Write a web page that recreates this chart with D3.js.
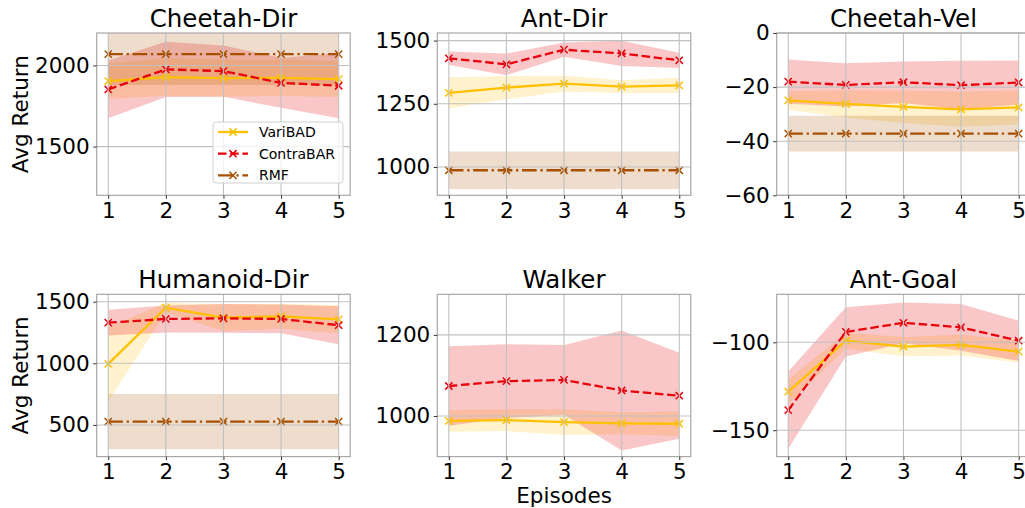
<!DOCTYPE html>
<html>
<head>
<meta charset="utf-8">
<script src="https://cdn.jsdelivr.net/npm/d3@7"></script>
<style>
    body { margin: 0; background: #fff; }
    text { font-family: "DejaVu Sans", sans-serif; fill: #000; }
</style>
</head>
<body>
<div id="chart"></div>
<script>
// data
const episodes = [1, 2, 3, 4, 5];
const tasks = ['Cheetah-Dir', 'Ant-Dir', 'Cheetah-Vel', 'Humanoid-Dir', 'Walker', 'Ant-Goal'];
const seriesNames = ['VariBAD', 'ContraBAR', 'RMF'];

const varibadMean = [
    [1904, 1928, 1922, 1924, 1916],
    [1293, 1314, 1330, 1318, 1323],
    [-24.9, -26.2, -27.3, -28.2, -27.5],
    [995, 1451, 1370, 1381, 1357],
    [988, 990, 985, 982, 981],
    [-128.1, -99.1, -102.5, -101.5, -105.3]
];
const varibadStd = [
    [110, 115, 115, 112, 110],
    [62, 46, 31, 25, 30],
    [3.5, 5, 6, 6.5, 6.3],
    [300, 40, 110, 100, 116],
    [27, 27, 32, 27, 30],
    [7, 4.5, 5.5, 6, 6.3]
];
const contrabarMean = [
    [1852, 1976, 1965, 1893, 1875],
    [1430, 1406, 1464, 1449, 1422],
    [-18.0, -19.2, -18.2, -19.3, -18.3],
    [1330, 1360, 1365, 1360, 1309],
    [1074, 1086, 1089, 1063, 1050],
    [-138.6, -94.1, -88.9, -91.5, -99.1]
];
const contrabarStd = [
    [178, 170, 158, 154, 200],
    [27, 43, 28, 50, 30],
    [8.2, 8, 7.7, 9, 8.1],
    [105, 110, 116, 117, 155],
    [98, 91, 86, 148, 106],
    [22, 14, 11.6, 13.3, 11.4]
];
// RMF only in the first four tasks
const rmfMean = [
    [2070, 2070, 2070, 2070, 2070],
    [987, 987, 987, 987, 987],
    [-37.2, -37.2, -37.2, -37.2, -37.2],
    [527, 527, 527, 527, 527],
    null,
    null
];
const rmfStd = [
    [190, 190, 190, 190, 190],
    [74, 74, 74, 74, 74],
    [6.6, 6.6, 6.6, 6.6, 6.6],
    [224, 224, 224, 224, 224],
    null,
    null
];
const yLimits = [[1200, 2200], [888, 1530], [-60, 0], [243, 1560], [900, 1300], [-165, -72.7]];
const yTickValues = [[1500, 2000], [1000, 1250, 1500], [-60, -40, -20, 0], [500, 1000, 1500], [1000, 1200], [-150, -100]];

// layout + styles
const W = 1025, H = 508;
const colLeft = [96.7, 437.3, 776.7];
const rowTop = [33, 294.3];
const pw = 253.5, ph = 162.3;
const colors = ['#ffc000', '#e8000b', '#a85000'];
const lw = 2.3;
const dashes = [null, '8.5,3.7', '14.7,3.7,2.3,3.7'];

const svg = d3.select('#chart').append('svg')
    .attr('width', W)
    .attr('height', H);

function drawX(g, cx, cy, color) {
    const s = 3.6;
    g.append('path')
        .attr('d', `M${cx - s},${cy - s}L${cx + s},${cy + s}M${cx - s},${cy + s}L${cx + s},${cy - s}`)
        .attr('stroke', color)
        .attr('stroke-width', 1.5)
        .attr('fill', 'none');
}

tasks.forEach((task, i) => {
    const col = i % 3, row = Math.floor(i / 3);
    const g = svg.append('g').attr('transform', `translate(${colLeft[col]},${rowTop[row]})`);

    const x = d3.scaleLinear().domain([0.8, 5.2]).range([0, pw]);
    const y = d3.scaleLinear().domain(yLimits[i]).range([ph, 0]);

    const clipId = 'clip' + i;
    g.append('clipPath').attr('id', clipId)
        .append('rect').attr('width', pw).attr('height', ph);

    const plot = g.append('g').attr('clip-path', `url(#${clipId})`);

    const series = [
        { mean: varibadMean[i], std: varibadStd[i] },
        { mean: contrabarMean[i], std: contrabarStd[i] },
        { mean: rmfMean[i], std: rmfStd[i] }
    ];

    // bands
    series.forEach((s, k) => {
        if (!s.mean) return;
        const area = d3.area()
            .x((d, j) => x(episodes[j]))
            .y0((d, j) => y(d - s.std[j]))
            .y1((d, j) => y(d + s.std[j]));
        plot.append('path')
            .attr('d', area(s.mean))
            .attr('fill', colors[k])
            .attr('fill-opacity', k === 1 ? 0.22 : 0.2);
    });

    // grid sits above bands, below lines
    g.append('g').selectAll('line').data(episodes).enter().append('line')
        .attr('x1', d => x(d)).attr('x2', d => x(d))
        .attr('y1', 0).attr('y2', ph)
        .attr('stroke', '#c0c0c0').attr('stroke-width', 1.1);
    g.append('g').selectAll('line').data(yTickValues[i]).enter().append('line')
        .attr('x1', 0).attr('x2', pw)
        .attr('y1', d => y(d)).attr('y2', d => y(d))
        .attr('stroke', '#c0c0c0').attr('stroke-width', 1.1);

    // lines + markers
    series.forEach((s, k) => {
        if (!s.mean) return;
        const line = d3.line()
            .x((d, j) => x(episodes[j]))
            .y(d => y(d));
        const p = plot.append('path')
            .attr('d', line(s.mean))
            .attr('fill', 'none')
            .attr('stroke', colors[k])
            .attr('stroke-width', lw);
        if (dashes[k]) p.attr('stroke-dasharray', dashes[k]);
        s.mean.forEach((d, j) => drawX(plot, x(episodes[j]), y(d), colors[k]));
    });

    // frame
    g.append('rect')
        .attr('width', pw).attr('height', ph)
        .attr('fill', 'none')
        .attr('stroke', '#a8a8a8')
        .attr('stroke-width', 1.2);

    // axes
    const xAxis = d3.axisBottom(x).tickValues(episodes).tickSize(3.5).tickPadding(3.5).tickFormat(d3.format('d'));
    const yAxis = d3.axisLeft(y).tickValues(yTickValues[i]).tickSize(3.5).tickPadding(3.5).tickFormat(d3.format('d'));
    const gx = g.append('g').attr('transform', `translate(0,${ph})`).call(xAxis);
    const gy = g.append('g').call(yAxis);
    [gx, gy].forEach(a => {
        a.select('.domain').remove();
        a.selectAll('.tick line').attr('stroke', '#333').attr('stroke-width', 1);
        a.selectAll('.tick text')
            .style('font-family', '"DejaVu Sans", sans-serif')
            .style('font-size', '21.5px')
            .attr('fill', '#000');
    });

    g.append('text')
        .attr('x', pw / 2).attr('y', -6)
        .attr('text-anchor', 'middle')
        .style('font-size', '24.5px')
        .text(task);

    if (col === 0) {
        g.append('text')
            .attr('transform', `translate(${20 - colLeft[col]},${ph / 2}) rotate(-90)`)
            .attr('text-anchor', 'middle')
            .attr('dy', '0.35em')
            .style('font-size', '21.5px')
            .text('Avg Return');
    }
    if (row === 1 && col === 1) {
        g.append('text')
            .attr('x', pw / 2).attr('y', ph + 46)
            .attr('text-anchor', 'middle')
            .style('font-size', '21.5px')
            .text('Episodes');
    }

    // legend only in the first panel
    if (i === 0) {
        const lg = g.append('g').attr('transform', `translate(${213 - colLeft[0]},${122 - rowTop[0]})`);
        lg.append('rect')
            .attr('width', 130).attr('height', 61)
            .attr('rx', 3)
            .attr('fill', '#fff').attr('fill-opacity', 0.8)
            .attr('stroke', '#d0d0d0');
        seriesNames.forEach((name, k) => {
            const yy = 10 + k * 21.7;
            const l = lg.append('line')
                .attr('x1', 5).attr('x2', 35)
                .attr('y1', yy).attr('y2', yy)
                .attr('stroke', colors[k]).attr('stroke-width', lw);
            if (dashes[k]) l.attr('stroke-dasharray', dashes[k]);
            drawX(lg, 20, yy, colors[k]);
            lg.append('text')
                .attr('x', 46).attr('y', yy)
                .attr('dy', '0.36em')
                .style('font-size', '14px')
                .text(name);
        });
    }
});
</script>
</body>
</html>
